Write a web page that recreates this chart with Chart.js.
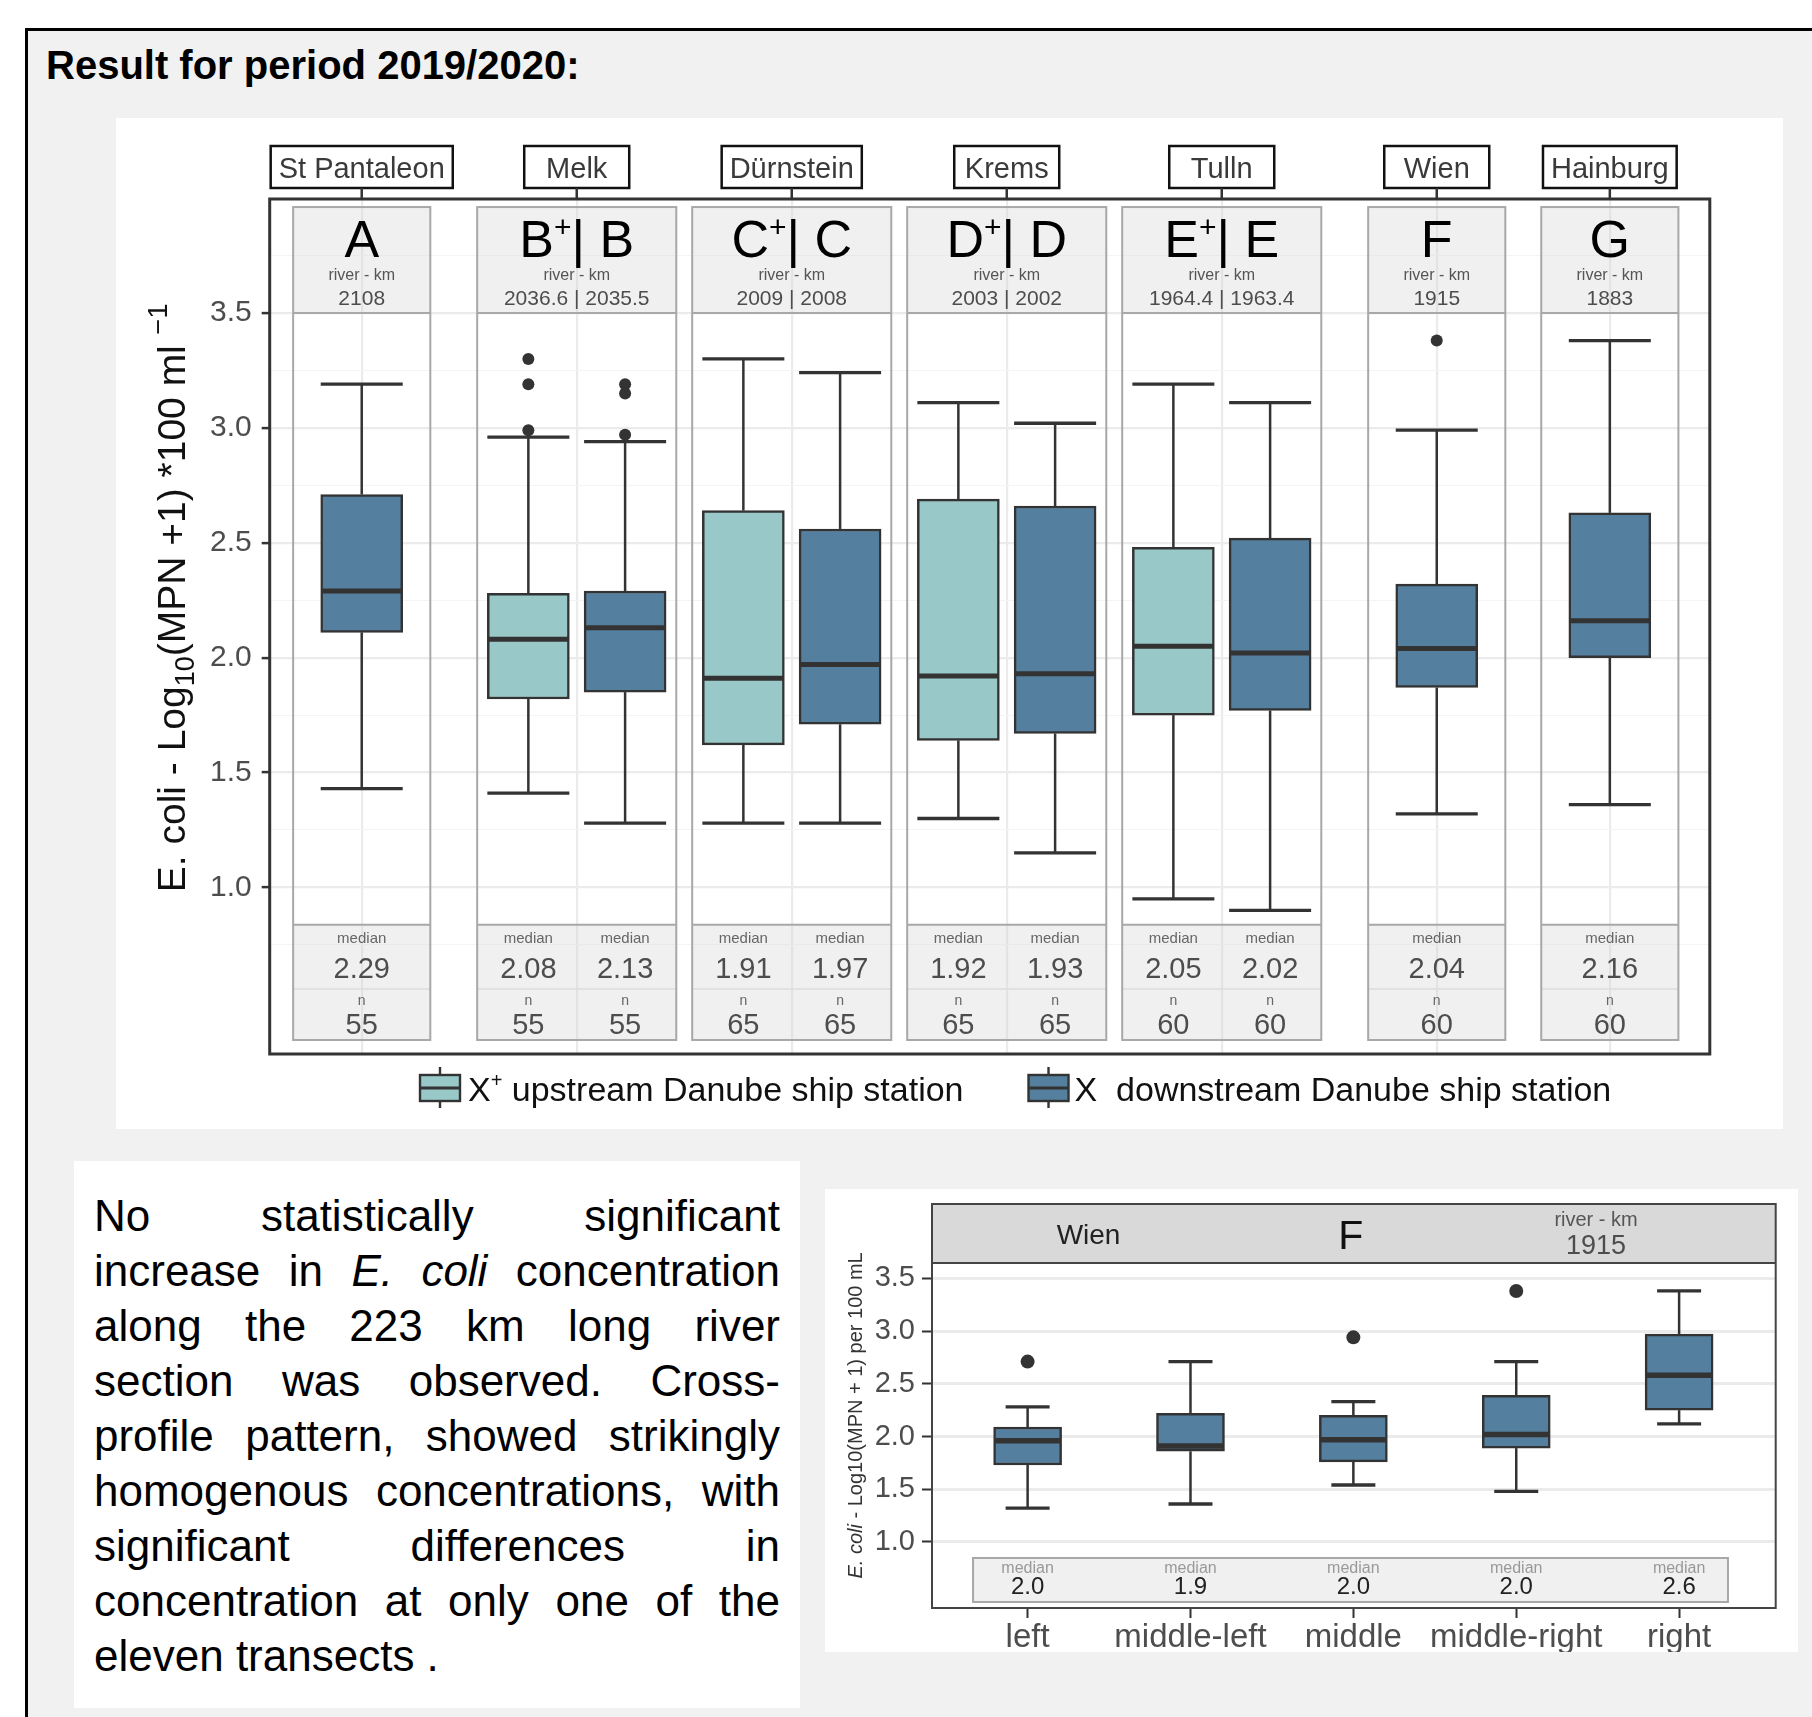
<!DOCTYPE html>
<html>
<head>
<meta charset="utf-8">
<script src="https://cdn.jsdelivr.net/npm/chart.js@4.4.1/dist/chart.umd.min.js"></script>
<style>
  html, body { margin: 0; padding: 0; background: #fff; }
  body { width: 1812px; height: 1717px; position: relative; overflow: hidden;
         font-family: "Liberation Sans", Arial, Helvetica, sans-serif; }
  #frame { position: absolute; left: 25px; top: 28px; width: 1787px; height: 1689px; box-sizing: border-box;
           border-top: 3px solid #000; border-left: 3px solid #000; background: #f1f1f1; }
  .panel { position: absolute; background: #fff; }
  #title { position: absolute; left: 46px; top: 45px; font-size: 40px; line-height: 40px; font-weight: bold; color: #000; white-space: nowrap; }
  #note { position: absolute; left: 94px; top: 1188px; width: 686px; font-size: 44px; line-height: 55px; color: #000; }
  #note .ln { text-align: justify; text-align-last: justify; }
  #note .last { text-align-last: left; }
  canvas { position: absolute; }
</style>
</head>
<body>
<div id="frame"></div>
<div id="title">Result for period 2019/2020:</div>
<div class="panel" style="left:116px; top:118px; width:1667px; height:1011px;"></div>
<div class="panel" style="left:74px; top:1161px; width:726px; height:547px;"></div>
<div class="panel" style="left:825px; top:1189px; width:973px; height:463px;"></div>
<div id="note">
  <div class="ln">No statistically significant</div>
  <div class="ln">increase in <i>E. coli</i> concentration</div>
  <div class="ln">along the 223 km long river</div>
  <div class="ln">section was observed. Cross-</div>
  <div class="ln">profile pattern, showed strikingly</div>
  <div class="ln">homogenous concentrations, with</div>
  <div class="ln">significant differences in</div>
  <div class="ln">concentration at only one of the</div>
  <div class="ln last">eleven transects .</div>
</div>
<canvas id="main" width="1667" height="1011" style="left:116px; top:118px;"></canvas>
<canvas id="wien" width="973" height="463" style="left:825px; top:1189px;"></canvas>

<script>
var FONT = '"Liberation Sans", Arial, Helvetica, sans-serif';

// stations along the Danube
var stations = ["St Pantaleon", "Melk", "Dürnstein", "Krems", "Tulln", "Wien", "Hainburg"];
var sites = ["A", "B", "C", "D", "E", "F", "G"];
var riverKm = ["2108", "2036.6 | 2035.5", "2009 | 2008", "2003 | 2002", "1964.4 | 1963.4", "1915", "1883"];
var paired = [false, true, true, true, true, false, false];

// X+ upstream ship station (only at paired sites)
var upStation = [1, 2, 3, 4];
var upMin = [1.41, 1.28, 1.30, 0.95];
var upQ1 = [1.82, 1.62, 1.64, 1.75];
var upMedian = [2.08, 1.91, 1.92, 2.05];
var upQ3 = [2.28, 2.64, 2.69, 2.48];
var upMax = [2.96, 3.30, 3.11, 3.19];
var upOutliers = [[3.30, 3.19, 2.99], [], [], []];
var upN = [55, 65, 65, 60];

// X downstream ship station
var downMin = [1.43, 1.28, 1.28, 1.15, 0.90, 1.32, 1.36];
var downQ1 = [2.11, 1.85, 1.71, 1.67, 1.77, 1.87, 2.00];
var downMedian = [2.29, 2.13, 1.97, 1.93, 2.02, 2.04, 2.16];
var downQ3 = [2.71, 2.29, 2.56, 2.66, 2.52, 2.32, 2.63];
var downMax = [3.19, 2.94, 3.24, 3.02, 3.11, 2.99, 3.38];
var downOutliers = [[], [3.19, 3.15, 2.97], [], [], [], [3.38], []];
var downN = [55, 55, 65, 65, 60, 60, 60];

var yTicks = [1.0, 1.5, 2.0, 2.5, 3.0, 3.5];

// Wien cross profile
var transects = ["left", "middle-left", "middle", "middle-right", "right"];
var wienMin = [1.32, 1.36, 1.54, 1.48, 2.12];
var wienQ1 = [1.73, 1.86, 1.76, 1.89, 2.25];
var wienMedian = [1.96, 1.91, 1.97, 2.02, 2.58];
var wienQ3 = [2.09, 2.22, 2.20, 2.39, 2.97];
var wienMax = [2.28, 2.71, 2.33, 2.71, 3.38];
var wienOutliers = [[2.71], [], [2.94], [3.38], []];

var upColor = "#98c9c8", downColor = "#547f9e", ink = "#333333";

// layout, in axis units
var stationPos = [1, 2, 3, 4, 5, 6, 6.805];
var pairShift = 0.225;
var facetTop = 3.961, headBottom = 3.5, footTop = 0.837, footMid = 0.558, footBottom = 0.336;

function font(size, style) { return (style ? style + ' ' : '') + size + 'px ' + FONT; }

function label(ctx, t, x, y, size, color, style) {
  ctx.font = font(size, style);
  ctx.fillStyle = color;
  ctx.textAlign = 'center';
  ctx.textBaseline = 'alphabetic';
  ctx.fillText(t, x, y);
}

function runs(ctx, parts, x, y, color, align) {
  var total = 0;
  parts.forEach(function (p) { ctx.font = font(p.size, p.style); p.w = ctx.measureText(p.t).width; total += p.w; });
  var cx = align === 'left' ? x : x - total / 2;
  ctx.fillStyle = color;
  ctx.textAlign = 'left';
  ctx.textBaseline = 'alphabetic';
  parts.forEach(function (p) {
    ctx.font = font(p.size, p.style);
    ctx.fillText(p.t, cx, y + (p.dy || 0));
    cx += p.w;
  });
  return total;
}

function line(ctx, x1, y1, x2, y2, color, width) {
  ctx.beginPath();
  ctx.moveTo(x1, y1);
  ctx.lineTo(x2, y2);
  ctx.strokeStyle = color;
  ctx.lineWidth = width;
  ctx.stroke();
}

function drawWhiskers(chart, list, capPx) {
  var ctx = chart.ctx, xs = chart.scales.x, ys = chart.scales.y;
  list.forEach(function (b) {
    var x = xs.getPixelForValue(b.x);
    var yMax = ys.getPixelForValue(b.max), yMin = ys.getPixelForValue(b.min);
    line(ctx, x, yMax, x, ys.getPixelForValue(b.q3), ink, 2.5);
    line(ctx, x, ys.getPixelForValue(b.q1), x, yMin, ink, 2.5);
    line(ctx, x - capPx / 2, yMax, x + capPx / 2, yMax, ink, 3.3);
    line(ctx, x - capPx / 2, yMin, x + capPx / 2, yMin, ink, 3.3);
  });
}

function drawMedians(chart, list, boxPx, width) {
  var ctx = chart.ctx, xs = chart.scales.x, ys = chart.scales.y;
  list.forEach(function (b) {
    var x = xs.getPixelForValue(b.x), y = ys.getPixelForValue(b.med);
    line(ctx, x - boxPx / 2 + 1, y, x + boxPx / 2 - 1, y, ink, width);
  });
}

function drawKey(ctx, x, yc, color) {
  line(ctx, x + 20, yc - 21, x + 20, yc + 20, ink, 2.4);
  ctx.fillStyle = color;
  ctx.fillRect(x, yc - 13, 40, 26);
  ctx.strokeStyle = ink;
  ctx.lineWidth = 2.4;
  ctx.strokeRect(x, yc - 13, 40, 26);
  line(ctx, x, yc, x + 40, yc, ink, 3);
}

// ---------- main chart ----------
var boxes = [], upBars = [], downBars = [], upPoints = [], downPoints = [];

stations.forEach(function (name, i) {
  var dx = paired[i] ? stationPos[i] + pairShift : stationPos[i];
  downBars.push({ x: dx, y: [downQ1[i], downQ3[i]] });
  boxes.push({ x: dx, min: downMin[i], q1: downQ1[i], med: downMedian[i], q3: downQ3[i], max: downMax[i], n: downN[i] });
  downOutliers[i].forEach(function (v) { downPoints.push({ x: dx, y: v }); });
});

upStation.forEach(function (s, k) {
  var ux = stationPos[s] - pairShift;
  upBars.push({ x: ux, y: [upQ1[k], upQ3[k]] });
  boxes.push({ x: ux, min: upMin[k], q1: upQ1[k], med: upMedian[k], q3: upQ3[k], max: upMax[k], n: upN[k] });
  upOutliers[k].forEach(function (v) { upPoints.push({ x: ux, y: v }); });
});

var gridSteps = [];
for (var k = 3; k <= 15; k++) gridSteps.push(k / 4);

var mainDecor = {
  id: 'mainDecor',
  beforeDatasetsDraw: function (chart) {
    var ctx = chart.ctx, xs = chart.scales.x, ys = chart.scales.y;
    var t = ys.getPixelForValue(facetTop), hb = ys.getPixelForValue(headBottom);
    var ft = ys.getPixelForValue(footTop), fm = ys.getPixelForValue(footMid), fb = ys.getPixelForValue(footBottom);
    ctx.save();
    stationPos.forEach(function (pos, i) {
      var hw = paired[i] ? 0.463 : 0.319;
      var l = xs.getPixelForValue(pos - hw), r = xs.getPixelForValue(pos + hw);
      ctx.fillStyle = 'rgba(214,214,214,0.36)';
      ctx.fillRect(l, t, r - l, hb - t);
      ctx.fillRect(l, ft, r - l, fb - ft);
      line(ctx, l, fm, r, fm, '#dcdcdc', 1.5);
      line(ctx, l, hb, r, hb, '#a8a8a8', 2);
      line(ctx, l, ft, r, ft, '#a8a8a8', 2);
      ctx.strokeStyle = '#a8a8a8';
      ctx.lineWidth = 2;
      ctx.strokeRect(l, t, r - l, fb - t);
    });
    drawWhiskers(chart, boxes, 82);
    ctx.restore();
  },
  afterDatasetsDraw: function (chart) {
    chart.ctx.save();
    drawMedians(chart, boxes, 82, 5);
    chart.ctx.restore();
  },
  afterDraw: function (chart) {
    var ctx = chart.ctx, a = chart.chartArea, xs = chart.scales.x, ys = chart.scales.y;
    var t = ys.getPixelForValue(facetTop);
    var ft = ys.getPixelForValue(footTop), fm = ys.getPixelForValue(footMid);
    ctx.save();
    ctx.strokeStyle = ink;
    ctx.lineWidth = 3;
    ctx.strokeRect(a.left, a.top, a.right - a.left, a.bottom - a.top);

    stations.forEach(function (name, i) {
      var cx = xs.getPixelForValue(stationPos[i]);
      ctx.font = font(29);
      var w = Math.max(105, ctx.measureText(name).width + 16);
      ctx.fillStyle = '#fff';
      ctx.fillRect(cx - w / 2, a.top - 53, w, 42);
      ctx.strokeStyle = '#111';
      ctx.lineWidth = 2.5;
      ctx.strokeRect(cx - w / 2, a.top - 53, w, 42);
      line(ctx, cx, a.top - 11, cx, a.top, ink, 2.5);
      label(ctx, name, cx, a.top - 21, 29, '#3a3a3a');

      if (paired[i]) {
        runs(ctx, [{ t: sites[i], size: 52 }, { t: '+', size: 30, dy: -20 }, { t: '| ' + sites[i], size: 52 }], cx, t + 50, '#000');
      } else {
        label(ctx, sites[i], cx, t + 50, 52, '#000');
      }
      label(ctx, 'river - km', cx, t + 73, 16, '#555');
      label(ctx, riverKm[i], cx, t + 98, 21, '#4d4d4d');
    });

    boxes.forEach(function (b) {
      var x = xs.getPixelForValue(b.x);
      label(ctx, 'median', x, ft + 18, 15, '#666');
      label(ctx, b.med.toFixed(2), x, ft + 53, 29, '#4d4d4d');
      label(ctx, 'n', x, fm + 16, 14, '#666');
      label(ctx, String(b.n), x, fm + 45, 29, '#4d4d4d');
    });

    // y axis title
    ctx.save();
    ctx.translate(55, ys.getPixelForValue(2.26));
    ctx.rotate(-Math.PI / 2);
    runs(ctx, [
      { t: 'E. coli - Log', size: 39 },
      { t: '10', size: 27, dy: 9 },
      { t: '(MPN +1) *100 ml ', size: 39 },
      { t: '\u22121', size: 27, dy: -18 }
    ], 0, 14, '#111');
    ctx.restore();

    // legend
    var ly = a.bottom + 34, lx = 304;
    drawKey(ctx, lx, ly, upColor);
    var w1 = runs(ctx, [{ t: 'X', size: 34 }, { t: '+', size: 20, dy: -14 }, { t: ' upstream Danube ship station', size: 34 }],
      lx + 48, a.bottom + 47, '#111', 'left');
    var lx2 = lx + 48 + w1 + 65;
    drawKey(ctx, lx2, ly, downColor);
    runs(ctx, [{ t: 'X  downstream Danube ship station', size: 34 }], lx2 + 46, a.bottom + 47, '#111', 'left');
    ctx.restore();
  }
};

Chart.defaults.font.family = FONT;

new Chart(document.getElementById('main'), {
  type: 'bar',
  data: {
    datasets: [
      { label: 'X+ upstream Danube ship station', data: upBars, backgroundColor: upColor, borderColor: ink,
        borderWidth: 2.5, borderSkipped: false, barThickness: 82, grouped: false },
      { label: 'X downstream Danube ship station', data: downBars, backgroundColor: downColor, borderColor: ink,
        borderWidth: 2.5, borderSkipped: false, barThickness: 82, grouped: false },
      { type: 'scatter', data: upPoints.concat(downPoints), pointRadius: 6, backgroundColor: ink, borderWidth: 0 }
    ]
  },
  options: {
    responsive: false,
    animation: false,
    devicePixelRatio: 1,
    events: [],
    layout: { padding: { left: 0, top: 81, right: 73.2, bottom: 75 } },
    plugins: { legend: { display: false }, tooltip: { enabled: false } },
    scales: {
      x: {
        type: 'linear', min: 0.572, max: 7.27, offset: false,
        afterBuildTicks: function (s) { s.ticks = stationPos.map(function (v) { return { value: v }; }); },
        ticks: { display: false },
        grid: { offset: false, color: '#ebebeb', lineWidth: 2.2, drawTicks: false },
        border: { display: false }
      },
      y: {
        type: 'linear', min: 0.275, max: 3.996,
        afterFit: function (s) { s.width = 153.7; },
        afterBuildTicks: function (s) { s.ticks = gridSteps.map(function (v) { return { value: v }; }); },
        ticks: {
          autoSkip: false, padding: 10, color: '#4d4d4d', font: { size: 30 },
          callback: function (v) { return yTicks.indexOf(v) >= 0 ? v.toFixed(1) : ''; }
        },
        grid: {
          color: function (c) { return c.tick && c.tick.value % 0.5 === 0 ? '#ebebeb' : '#f4f4f4'; },
          lineWidth: function (c) { return c.tick && c.tick.value % 0.5 === 0 ? 2.2 : 1.1; },
          tickLength: 8, tickWidth: 2.5,
          tickColor: function (c) { return c.tick && yTicks.indexOf(c.tick.value) >= 0 ? ink : 'rgba(0,0,0,0)'; }
        },
        border: { display: false }
      }
    }
  },
  plugins: [mainDecor]
});

// ---------- Wien cross profile ----------
var wienBoxes = [], wienBars = [], wienPoints = [];
transects.forEach(function (name, i) {
  var x = i + 1;
  wienBars.push({ x: x, y: [wienQ1[i], wienQ3[i]] });
  wienBoxes.push({ x: x, min: wienMin[i], q1: wienQ1[i], med: wienMedian[i], q3: wienQ3[i], max: wienMax[i] });
  wienOutliers[i].forEach(function (v) { wienPoints.push({ x: x, y: v }); });
});

var wienDecor = {
  id: 'wienDecor',
  beforeDatasetsDraw: function (chart) {
    var ctx = chart.ctx, xs = chart.scales.x, ys = chart.scales.y;
    var l = xs.getPixelForValue(0.665), r = xs.getPixelForValue(5.30);
    var t = ys.getPixelForValue(0.848), b = ys.getPixelForValue(0.431);
    ctx.save();
    ctx.fillStyle = '#f0f0f0';
    ctx.fillRect(l, t, r - l, b - t);
    ctx.strokeStyle = '#a8a8a8';
    ctx.lineWidth = 2;
    ctx.strokeRect(l, t, r - l, b - t);
    drawWhiskers(chart, wienBoxes, 44);
    ctx.restore();
  },
  afterDatasetsDraw: function (chart) {
    chart.ctx.save();
    drawMedians(chart, wienBoxes, 68, 5.5);
    chart.ctx.restore();
  },
  afterDraw: function (chart) {
    var ctx = chart.ctx, a = chart.chartArea, xs = chart.scales.x, ys = chart.scales.y;
    var top = a.top - 59;
    ctx.save();
    ctx.fillStyle = '#d9d9d9';
    ctx.fillRect(a.left, top, a.right - a.left, a.top - top);
    ctx.strokeStyle = '#444';
    ctx.lineWidth = 2;
    ctx.strokeRect(a.left, top, a.right - a.left, a.bottom - top);
    line(ctx, a.left, a.top, a.right, a.top, '#444', 2);

    label(ctx, stations[5], xs.getPixelForValue(1.374), a.top - 19, 28, '#222');
    label(ctx, sites[5], xs.getPixelForValue(2.984), a.top - 14, 41, '#111');
    label(ctx, 'river - km', xs.getPixelForValue(4.49), a.top - 37, 20, '#555');
    label(ctx, riverKm[5], xs.getPixelForValue(4.49), a.top - 9, 27, '#4d4d4d');

    var mt = ys.getPixelForValue(0.848);
    wienBoxes.forEach(function (b) {
      var x = xs.getPixelForValue(b.x);
      label(ctx, 'median', x, mt + 15, 16, '#999');
      label(ctx, b.med.toFixed(1), x, mt + 36, 24, '#222');
    });

    ctx.save();
    ctx.translate(30, ys.getPixelForValue(2.2));
    ctx.rotate(-Math.PI / 2);
    runs(ctx, [{ t: 'E. coli', size: 20, style: 'italic' }, { t: ' - Log10(MPN + 1) per 100 mL', size: 20 }], 0, 7, '#333');
    ctx.restore();
    ctx.restore();
  }
};

new Chart(document.getElementById('wien'), {
  type: 'bar',
  data: {
    datasets: [
      { label: 'Wien', data: wienBars, backgroundColor: downColor, borderColor: ink,
        borderWidth: 2.5, borderSkipped: false, barThickness: 68, grouped: false },
      { type: 'scatter', data: wienPoints, pointRadius: 7, backgroundColor: ink, borderWidth: 0 }
    ]
  },
  options: {
    responsive: false,
    animation: false,
    devicePixelRatio: 1,
    events: [],
    layout: { padding: { left: 0, top: 74, right: 22.3, bottom: 0 } },
    plugins: { legend: { display: false }, tooltip: { enabled: false } },
    scales: {
      x: {
        type: 'linear', min: 0.413, max: 5.593, offset: false,
        afterFit: function (s) { s.height = 44; },
        afterBuildTicks: function (s) { s.ticks = transects.map(function (t, i) { return { value: i + 1 }; }); },
        ticks: {
          autoSkip: false, maxRotation: 0, padding: 0, color: '#4d4d4d', font: { size: 33 },
          callback: function (v) { return transects[v - 1]; }
        },
        grid: { offset: false, drawOnChartArea: false, tickLength: 10, tickWidth: 2, tickColor: ink },
        border: { display: false }
      },
      y: {
        type: 'linear', min: 0.374, max: 3.645,
        afterFit: function (s) { s.width = 107; },
        afterBuildTicks: function (s) { s.ticks = yTicks.map(function (v) { return { value: v }; }); },
        ticks: { autoSkip: false, padding: 7, color: '#4d4d4d', font: { size: 29 },
                 callback: function (v) { return v.toFixed(1); } },
        grid: { color: '#ebebeb', lineWidth: 3, tickLength: 10, tickWidth: 2, tickColor: ink },
        border: { display: false }
      }
    }
  },
  plugins: [wienDecor]
});
</script>
</body>
</html>
